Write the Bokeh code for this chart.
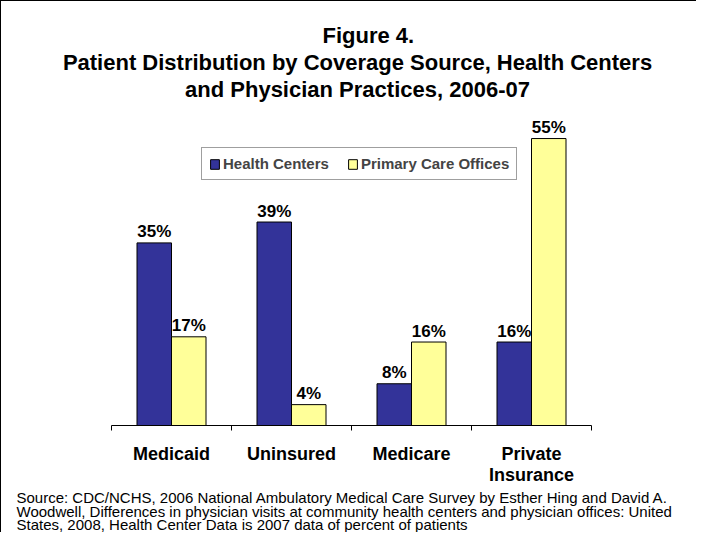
from bokeh.plotting import figure
from bokeh.models import Range1d, LinearAxis, FixedTicker, Title, ColumnDataSource, Legend, LegendItem
from bokeh.core.properties import value
from bokeh.embed import file_html
from bokeh.resources import INLINE

# ---- data ----
categories = ["Medicaid", "Uninsured", "Medicare", "Private\nInsurance"]
health_centers = [35, 39, 8, 16]
primary_care = [17, 4, 16, 55]
series_names = ["Health Centers", "Primary Care Offices"]
title_lines = ["Figure 4.",
               "Patient Distribution by Coverage Source, Health Centers",
               "and Physician Practices, 2006-07"]
source_lines = ["Source: CDC/NCHS, 2006 National Ambulatory Medical Care Survey by Esther Hing and David A.",
                "Woodwell, Differences in physician visits at community health centers and physician offices: United",
                "States, 2008, Health Center Data is 2007 data of percent of patients"]

FONT = "Liberation Sans"
BLUE = "#333399"
YELLOW = "#FFFF99"
BAR_W = 0.2875

centers = [i + 0.5 for i in range(len(categories))]
x_hc = [c - BAR_W / 2 for c in centers]
x_pc = [c + BAR_W / 2 for c in centers]

src_hc = ColumnDataSource(dict(x=x_hc, top=health_centers, lab=[f"{v}%" for v in health_centers]))
src_pc = ColumnDataSource(dict(x=x_pc, top=primary_care, lab=[f"{v}%" for v in primary_care]))

p = figure(width=696, height=532, output_backend="svg", toolbar_location=None,
           x_range=Range1d(0, 4.1), y_range=Range1d(0, 62.1),
           x_axis_type=None, y_axis_type=None,
           min_border_left=110, min_border_right=94, min_border_top=100, min_border_bottom=0)
p.grid.visible = False
p.outline_line_color = None
p.background_fill_color = "white"
p.border_fill_color = "white"
p.styles = {"border-top": "1px solid #000000", "border-left": "1px solid #000000"}

# titles: p.title is outermost; added titles stack outward from the frame
p.title.text = title_lines[0]
p.title.align = "left"
p.title.offset = 211
p.title.text_font = FONT
p.title.text_font_size = "22px"
p.title.text_font_style = "bold"
p.title.text_color = "#000000"
p.title.standoff = 0
t3 = Title(text=title_lines[2], align="center", text_font=FONT, text_font_size="22px",
           text_font_style="bold", text_color="#000000", standoff=0)
p.add_layout(t3, "above")
t2 = Title(text=title_lines[1], align="center", text_font=FONT, text_font_size="22px",
           text_font_style="bold", text_color="#000000", standoff=0)
p.add_layout(t2, "above")

r_hc = p.vbar(x="x", top="top", width=BAR_W, bottom=0, source=src_hc,
              fill_color=BLUE, line_color="#000000", line_width=1)
r_pc = p.vbar(x="x", top="top", width=BAR_W, bottom=0, source=src_pc,
              fill_color=YELLOW, line_color="#000000", line_width=1)

for s in (src_hc, src_pc):
    p.text(x="x", y="top", text="lab", source=s, text_align="center", text_baseline="alphabetic",
           y_offset=-11, text_font=value(FONT), text_font_size="17px", text_font_style="bold",
           text_color="#000000")

# x axis: labels at category centers, ticks at category boundaries
xa = LinearAxis(ticker=FixedTicker(ticks=centers, minor_ticks=list(range(len(categories) + 1))),
                bounds=(0, len(categories)))
xa.major_label_overrides = {c: lab for c, lab in zip(centers, categories)}
xa.major_tick_line_color = None
xa.major_tick_out = 0
xa.major_tick_in = 0
xa.minor_tick_out = 5
xa.minor_tick_in = 0
xa.minor_tick_line_color = "#000000"
xa.axis_line_color = "#000000"
xa.major_label_standoff = 13
xa.major_label_text_font = FONT
xa.major_label_text_font_size = "18px"
xa.major_label_text_font_style = "bold"
xa.major_label_text_color = "#000000"
xa.major_label_text_line_height = 1.05
p.add_layout(xa, "below")

p.add_layout(Title(text="\n".join(source_lines), align="left", offset=-95, text_font=FONT,
                   text_font_size="15px", text_font_style="normal", text_color="#000000",
                   text_line_height=0.8, standoff=0), "below")

legend = Legend(items=[LegendItem(label=series_names[0], renderers=[r_hc]),
                       LegendItem(label=series_names[1], renderers=[r_pc])],
                orientation="horizontal", location=(90, 245),
                label_text_font=FONT, label_text_font_size="15px", label_text_font_style="bold",
                glyph_width=11, glyph_height=12, label_standoff=3, spacing=18, padding=7, margin=0,
                border_line_color="#404040", border_line_width=1, background_fill_alpha=1.0,
                label_height=14)
p.add_layout(legend, "center")

open("out.html", "w").write(file_html(p, INLINE))
